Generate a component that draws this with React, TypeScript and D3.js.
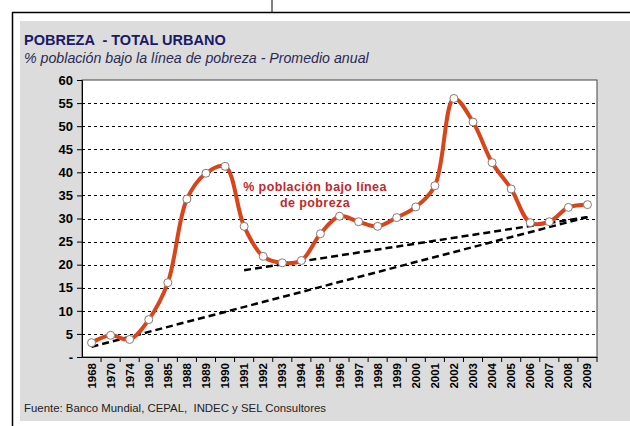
import { useRef, useEffect } from 'react';
import * as d3 from 'd3';

const years = [
  '1968', '1970', '1974', '1980', '1985', '1988', '1989', '1990', '1991', '1992',
  '1993', '1994', '1995', '1996', '1997', '1998', '1999', '2000', '2001', '2002',
  '2003', '2004', '2005', '2006', '2007', '2008', '2009',
];
const pobreza = [
  3.1, 4.7, 3.8, 8.1, 16.1, 34.2, 39.8, 41.3, 28.3, 21.8,
  20.4, 20.9, 26.7, 30.5, 29.3, 28.3, 30.2, 32.5, 37.1, 56.0,
  50.9, 42.1, 36.4, 29.1, 29.3, 32.4, 33.0,
];
// trend lines, start and end point
const trendLong = [{ year: '1968', value: 2.2 }, { year: '2009', value: 30.3 }];
const trendShort = [{ year: '1991', value: 18.8 }, { year: '2009', value: 30.3 }];
const yTicks = [0, 5, 10, 15, 20, 25, 30, 35, 40, 45, 50, 55, 60];

const title = 'POBREZA  - TOTAL URBANO';
const subtitle = '% población bajo la línea de pobreza - Promedio anual';
const annotation = ['% población bajo línea', 'de pobreza'];
const source = 'Fuente: Banco Mundial, CEPAL,  INDEC y SEL Consultores';

const FONT = 'Arial, Liberation Sans, sans-serif';

const App = () => {
  const svgRef = useRef(null);

  useEffect(() => {
    const svg = d3.select(svgRef.current);
    svg.selectAll('*').remove();

    const left = 82, right = 597, top = 80, bottom = 357;

    const x = d3.scaleBand().domain(years).range([left, right]);
    const cx = (d) => x(d) + x.bandwidth() / 2;
    const y = d3.scaleLinear().domain([0, 60]).range([bottom, top]);

    // frame
    svg.append('rect').attr('x', 0).attr('y', 0).attr('width', 630).attr('height', 426).attr('fill', '#fff');
    svg.append('line').attr('x1', 272).attr('x2', 272).attr('y1', 0).attr('y2', 12).attr('stroke', '#000');
    svg.append('rect').attr('x', 20).attr('y', 21).attr('width', 610).attr('height', 400).attr('fill', '#dcdcdc');
    svg.append('line').attr('x1', 12).attr('x2', 630).attr('y1', 12.5).attr('y2', 12.5).attr('stroke', '#000').attr('stroke-width', 1.5);
    svg.append('line').attr('x1', 12.5).attr('x2', 12.5).attr('y1', 12).attr('y2', 426).attr('stroke', '#000').attr('stroke-width', 1.5);

    svg.append('text').attr('x', 24).attr('y', 45).text(title)
      .attr('font-family', FONT).attr('font-weight', 'bold')
      .attr('font-size', 14.5).attr('fill', '#1a1a66').attr('xml:space', 'preserve');
    svg.append('text').attr('x', 24).attr('y', 63).text(subtitle)
      .attr('font-family', FONT).attr('font-style', 'italic')
      .attr('font-size', 14.2).attr('fill', '#2a2a55');

    // plot area
    svg.append('rect').attr('x', left).attr('y', top).attr('width', right - left).attr('height', bottom - top)
      .attr('fill', '#fff').attr('stroke', '#444').attr('stroke-width', 1);

    svg.append('g').selectAll('line').data(yTicks.filter((t) => t > 0 && t < 60)).join('line')
      .attr('x1', left).attr('x2', right).attr('y1', (d) => Math.round(y(d)) + 0.5).attr('y2', (d) => Math.round(y(d)) + 0.5)
      .attr('stroke', '#000').attr('stroke-width', 1).attr('stroke-dasharray', '3,3');

    // y axis
    const yAxis = d3.axisLeft(y).tickValues(yTicks).tickSize(5).tickFormat((d) => (d === 0 ? '-' : String(d)));
    const gy = svg.append('g').attr('transform', `translate(${left},0)`).call(yAxis);
    gy.select('.domain').attr('stroke', '#000');
    gy.selectAll('text').attr('font-family', FONT).attr('font-weight', 'bold')
      .attr('font-size', 13).attr('fill', '#000').attr('dx', -1);

    // x axis
    const xAxis = d3.axisBottom(x).tickSize(5).tickSizeOuter(0);
    const gx = svg.append('g').attr('transform', `translate(0,${bottom})`).call(xAxis);
    gx.select('.domain').attr('stroke', '#000');
    gx.selectAll('.tick line').attr('transform', `translate(${x.bandwidth() / 2},0)`);
    gx.selectAll('text').attr('font-family', FONT).attr('font-weight', 'bold')
      .attr('font-size', 11.5).attr('fill', '#000')
      .attr('transform', 'rotate(-90)').attr('x', -6).attr('y', 0).attr('dy', '0.35em').attr('text-anchor', 'end');

    // trend lines
    const tl = d3.line().x((d) => cx(d.year)).y((d) => y(d.value));
    [trendLong, trendShort].forEach((t) => {
      svg.append('path').attr('d', tl(t)).attr('fill', 'none').attr('stroke', '#000')
        .attr('stroke-width', 2.5).attr('stroke-dasharray', '7,4');
    });

    // series
    const line = d3.line().x((d, i) => cx(years[i])).y((d) => y(d)).curve(d3.curveCatmullRom.alpha(0.5));
    svg.append('path').attr('d', line(pobreza)).attr('fill', 'none').attr('stroke', '#d9441a').attr('stroke-width', 4);
    svg.append('g').selectAll('circle').data(pobreza).join('circle')
      .attr('cx', (d, i) => cx(years[i])).attr('cy', (d) => y(d)).attr('r', 4)
      .attr('fill', '#fff').attr('stroke', '#8a7a70').attr('stroke-width', 1);

    // annotation
    svg.append('g').selectAll('text').data(annotation).join('text')
      .attr('x', 315).attr('y', (d, i) => 191 + i * 16).attr('text-anchor', 'middle').text((d) => d)
      .attr('font-family', FONT).attr('font-weight', 'bold')
      .attr('font-size', 12.5).attr('letter-spacing', 0.4).attr('fill', '#c0282d');

    svg.append('text').attr('x', 24).attr('y', 412).text(source).attr('xml:space', 'preserve')
      .attr('font-family', FONT).attr('font-size', 11.4).attr('fill', '#222');
  }, []);

  return (
    <div style={{ position: 'absolute', left: 0, top: 0 }}>
      <svg ref={svgRef} width={630} height={426} style={{ display: 'block' }}></svg>
    </div>
  );
};

export default App;
